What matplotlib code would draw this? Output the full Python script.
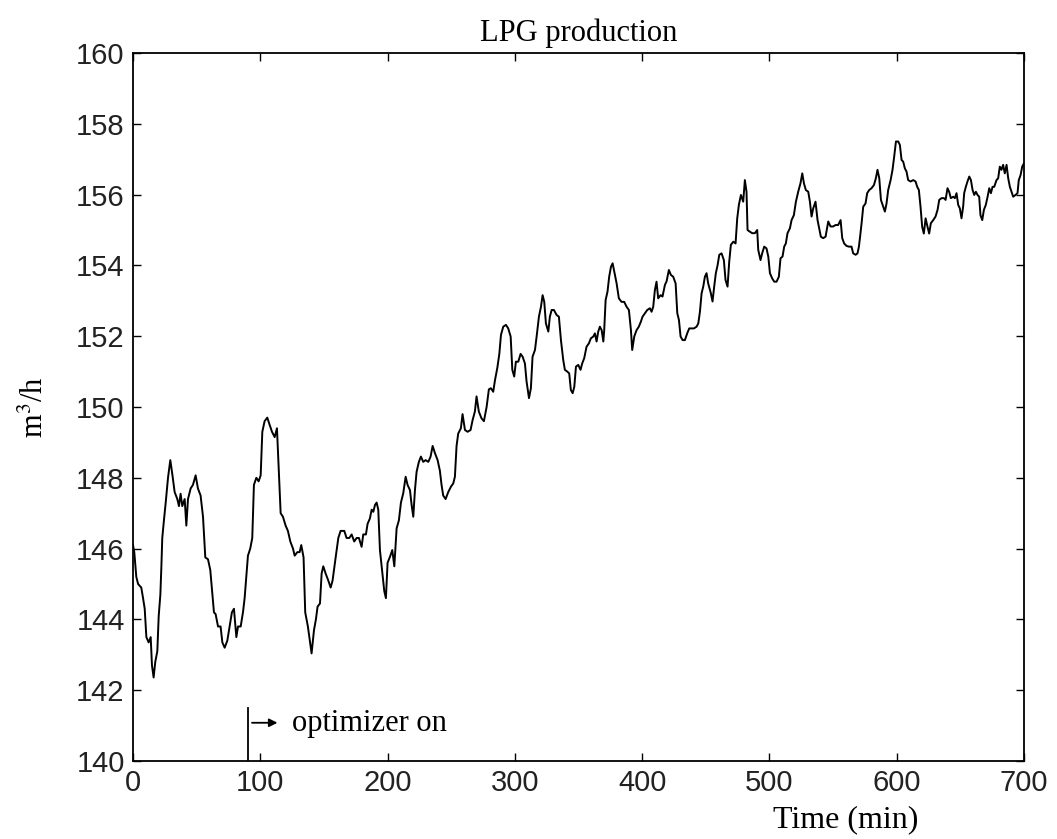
import matplotlib
matplotlib.use("Agg")
import matplotlib.pyplot as plt

# ---- data ----
time_min = [
    0, 1, 2.6, 4, 6.5, 7.9, 9.2, 10.5, 12.3, 13.9, 14.9, 16.2, 17.5, 19.1, 20.2, 21.5, 22.3, 23, 24.3, 25.7,
    27.5, 29.3, 30.9, 32.7, 34.8, 36.1, 37.4, 38.7, 40.6, 41.9, 43.2, 45.3, 47.1, 49.2, 51, 53.1, 55, 56.8, 58.9, 60.7,
    62, 63.6, 64.9, 66.8, 68.8, 70.2, 72, 74.1, 75.9, 77.7, 79.3, 81.2, 82.5, 84.6, 86.4, 87.7, 89, 90.3, 92.1, 93.7,
    95, 96.9, 98.7, 100.3, 101.6, 103.4, 105.5, 107.3, 109.2, 111.3, 113.1, 114.4, 116, 117.8, 119.9, 121.7, 123.6, 125.7, 127, 129.1,
    130.9, 132.2, 134, 135.3, 137.4, 139.3, 140.3, 142.2, 143.7, 145, 146.9, 148.2, 149.5, 151.3, 153.4, 155.3, 156.8, 158.1, 159.4, 161.3,
    163.1, 166, 167.8, 169.9, 171.8, 173.8, 175.7, 177.5, 179.6, 180.9, 183, 184.3, 186.1, 187.5, 188.8, 190.1, 191.4, 192.7, 194, 195.8,
    197.4, 198.7, 200, 201.9, 203.7, 205.3, 207.1, 208.9, 210.5, 212.3, 214.2, 215.7, 217.6, 218.9, 220.2, 221.5, 222.8, 224.6, 226.2, 228,
    229.9, 232, 233.8, 235.4, 237.2, 239.3, 241.1, 242.4, 243.7, 245.6, 247.7, 249.8, 251.6, 252.9, 254.2, 255.5, 257.6, 258.9, 260.8, 262.9,
    265.2, 266.8, 268.6, 269.9, 271.7, 273.8, 275.7, 277.8, 279.6, 281.2, 283, 284.4, 286.2, 287.8, 289.1, 290.9, 293, 294.8, 296.7, 298,
    299.5, 300.8, 302.7, 304.5, 306.1, 307.9, 309.2, 311.1, 312.6, 313.9, 315.8, 317.1, 318.9, 320.5, 321.8, 323.1, 324.4, 326.3, 327.5, 328.9,
    330.7, 332.8, 334.6, 336.2, 338, 339.3, 341.2, 342.7, 344, 345.4, 346.7, 348, 349.8, 351.6, 352.9, 354.5, 356.3, 358.2, 359.7, 361.6,
    362.9, 364.2, 365.5, 366.8, 368.2, 369.5, 370.2, 371.3, 372.8, 374.1, 375.5, 376.8, 378.1, 379.9, 381.7, 383.8, 385.9, 387.8, 389.6, 391.2,
    392.2, 393.8, 395.6, 397.4, 399, 400.3, 402.2, 404, 406.1, 407.4, 408.7, 410, 411.3, 412.6, 414.5, 416, 417.9, 419.2, 421, 422.6,
    424.4, 426.3, 427.6, 428.9, 430.2, 431.8, 433.6, 435.4, 437, 438.8, 440.7, 442.8, 444.1, 445.4, 446.7, 448, 449.3, 450.6, 451.9, 454,
    455.3, 456.6, 457.9, 459.3, 460.6, 462.4, 464.2, 465.5, 467.1, 468.4, 469.7, 471.6, 473.4, 474.7, 476, 477.6, 479.4, 480.7, 482, 482.8,
    484.7, 486.5, 488.6, 490.4, 491.2, 493, 494.3, 495.9, 497.7, 499.1, 500.4, 502.2, 503.8, 505.6, 507.4, 508.7, 510.3, 511.6, 512.9, 514.2,
    516.1, 517.4, 519.2, 520.8, 522.6, 524.4, 525.8, 527.1, 528.6, 530.5, 531.8, 533.1, 534.4, 536.2, 537.8, 539.1, 540.4, 542.2, 544.1, 546.2,
    548, 550.1, 551.9, 554, 555.9, 557.2, 558.7, 560.6, 562.4, 564.5, 565.8, 567.7, 569.2, 570.3, 571.1, 572.4, 573.7, 575.5, 576.8, 578.4,
    580.2, 582.1, 583.6, 584.9, 586.3, 587.6, 589.4, 590.7, 592, 593.3, 595.2, 596.7, 598, 599.4, 601.2, 602.5, 603.8, 605.1, 606.4, 607.7,
    609, 610.9, 613, 614.8, 616.1, 617.4, 618.7, 620, 621.3, 622.7, 624.2, 625.5, 626.8, 628.7, 630.5, 632.1, 633.4, 635.2, 637.1, 638.4,
    639.9, 641.2, 642.5, 644.4, 645.7, 647, 648.3, 649.6, 650.9, 652.2, 653, 654.3, 655.6, 657, 658.3, 659.6, 660.9, 662.2, 663.5, 664.8,
    665.8, 667.2, 668.5, 670, 671.4, 672.7, 674, 675.3, 676.6, 678.4, 679.7, 681, 682.3, 683.6, 684.9, 686.3, 687.6, 688.9, 690.2, 691.5,
    693.3, 694.9, 695.9, 697.3, 698.6, 699.9,
]

lpg_flow = [
    146.1, 145.9, 145.2, 145.0, 144.9, 144.6, 144.3, 143.5, 143.35, 143.5, 142.7, 142.36, 142.8, 143.1, 144.1, 144.7, 145.5, 146.3, 146.8, 147.3,
    148.0, 148.5, 148.1, 147.6, 147.4, 147.2, 147.55, 147.2, 147.4, 146.65, 147.4, 147.7, 147.8, 148.07, 147.7, 147.5, 146.9, 145.75, 145.7, 145.4,
    144.85, 144.2, 144.15, 143.8, 143.8, 143.35, 143.2, 143.4, 143.8, 144.2, 144.3, 143.5, 143.8, 143.8, 144.2, 144.6, 145.2, 145.8, 146.0, 146.3,
    147.8, 148.0, 147.9, 148.07, 149.3, 149.6, 149.7, 149.5, 149.3, 149.15, 149.4, 148.35, 147.0, 146.9, 146.65, 146.5, 146.2, 146.0, 145.8, 145.9,
    145.9, 146.1, 145.75, 144.2, 143.8, 143.3, 143.04, 143.7, 144.0, 144.36, 144.45, 145.3, 145.5, 145.3, 145.1, 144.9, 145.1, 145.44, 145.8, 146.3,
    146.5, 146.5, 146.3, 146.3, 146.4, 146.2, 146.3, 146.3, 146.05, 146.4, 146.4, 146.7, 146.85, 147.1, 147.04, 147.23, 147.3, 147.1, 145.96, 145.35,
    144.8, 144.6, 145.6, 145.77, 145.96, 145.5, 146.57, 146.8, 147.3, 147.56, 148.03, 147.8, 147.65, 147.23, 146.9, 147.65, 148.17, 148.45, 148.6, 148.45,
    148.5, 148.45, 148.6, 148.9, 148.7, 148.5, 148.2, 147.8, 147.5, 147.4, 147.6, 147.75, 147.84, 148.03, 148.9, 149.25, 149.4, 149.8, 149.35, 149.3,
    149.35, 149.63, 149.87, 150.3, 149.87, 149.68, 149.6, 150.0, 150.5, 150.53, 150.43, 150.76, 151.1, 151.5, 152.04, 152.27, 152.32, 152.22, 151.99, 151.05,
    150.86, 151.28, 151.28, 151.5, 151.42, 151.23, 150.72, 150.25, 150.53, 151.42, 151.61, 151.99, 152.55, 152.83, 153.16, 152.97, 152.36, 152.13, 152.55, 152.74,
    152.74, 152.6, 152.55, 151.89, 151.33, 151.05, 151.0, 150.95, 150.48, 150.39, 150.57, 151.14, 151.19, 151.05, 151.23, 151.38, 151.7, 151.8, 151.94, 151.99,
    152.08, 151.85, 152.13, 152.27, 152.17, 151.85, 152.17, 153.02, 153.26, 153.68, 153.96, 154.06, 153.82, 153.5, 153.07, 152.97, 152.97, 152.83, 152.74, 152.17,
    151.61, 151.99, 152.17, 152.27, 152.41, 152.55, 152.65, 152.74, 152.79, 152.69, 152.83, 153.3, 153.54, 153.07, 153.16, 153.12, 153.45, 153.55, 153.87, 153.73,
    153.68, 153.49, 152.65, 152.46, 151.99, 151.89, 151.89, 152.08, 152.22, 152.22, 152.22, 152.27, 152.36, 152.69, 153.21, 153.4, 153.68, 153.78, 153.49, 153.21,
    152.98, 153.4, 153.78, 154.01, 154.3, 154.34, 154.15, 153.59, 153.4, 154.1, 154.58, 154.67, 154.62, 155.33, 155.71, 155.99, 155.8, 156.41, 156.08, 155.0,
    154.95, 154.91, 154.91, 155.0, 154.44, 154.15, 154.34, 154.53, 154.48, 154.25, 153.78, 153.63, 153.54, 153.54, 153.68, 154.2, 154.25, 154.53, 154.62, 154.91,
    155.05, 155.28, 155.42, 155.8, 156.08, 156.32, 156.6, 156.32, 156.13, 156.08, 155.8, 155.38, 155.61, 155.8, 155.28, 155.05, 154.81, 154.77, 154.81, 155.24,
    155.1, 155.1, 155.14, 155.14, 155.28, 154.77, 154.62, 154.55, 154.53, 154.53, 154.34, 154.3, 154.34, 154.53, 154.77, 155.19, 155.66, 155.75, 156.04, 156.13,
    156.18, 156.27, 156.46, 156.7, 156.46, 155.85, 155.66, 155.52, 155.75, 156.13, 156.41, 156.7, 157.07, 157.5, 157.5, 157.4, 156.98, 156.93, 156.74, 156.65,
    156.41, 156.37, 156.41, 156.37, 156.22, 156.13, 155.66, 155.09, 154.9, 155.33, 155.09, 154.9, 155.19, 155.28, 155.38, 155.57, 155.85, 155.9, 155.9, 155.85,
    156.18, 156.08, 155.9, 155.94, 155.9, 156.04, 155.71, 155.61, 155.33, 155.66, 156.04, 156.22, 156.37, 156.51, 156.41, 156.13, 155.99, 156.08, 155.99, 155.94,
    155.42, 155.28, 155.57, 155.71, 155.94, 156.18, 156.04, 156.22, 156.22, 156.41, 156.46, 156.79, 156.7, 156.84, 156.6, 156.84, 156.46, 156.22, 156.08, 155.94,
    155.99, 156.04, 156.41, 156.55, 156.79, 156.88,
]

x_ticks = [0, 100, 200, 300, 400, 500, 600, 700]
y_ticks = [140, 142, 144, 146, 148, 150, 152, 154, 156, 158, 160]
optimizer_on_time = 90
marker_top = 141.5
title_text = "LPG production"
xlabel_text = "Time (min)"
ylabel_text = r"m$^{3}$/h"
annot_text = "optimizer on"

# ---- figure ----
plt.rcParams["mathtext.fontset"] = "stix"
serif = ["Liberation Serif", "DejaVu Serif"]
sans = ["Liberation Sans", "DejaVu Sans"]

fig = plt.figure(figsize=(10.57, 8.39), dpi=100)
ax = fig.add_axes([133 / 1057, 1 - 761 / 839, (1024 - 133) / 1057, (761 - 53) / 839])

ax.plot(time_min, lpg_flow, color="black", linewidth=1.4)
ax.plot([optimizer_on_time, optimizer_on_time], [140, marker_top], color="black", linewidth=1.3)
# small right arrow next to the marker line
ax.annotate("", xy=(optimizer_on_time + 23.5, 141.08), xytext=(optimizer_on_time + 3.5, 141.08),
            arrowprops=dict(arrowstyle="-|>", color="black", lw=1.3, mutation_scale=12,
                            shrinkA=0, shrinkB=0))
ax.text(optimizer_on_time + 35, 141.05, annot_text, family=serif, fontsize=22,
        va="center", ha="left")

ax.set_xlim(0, 700)
ax.set_ylim(140, 160)
ax.set_xticks(x_ticks)
ax.set_yticks(y_ticks)
ax.set_xticklabels([str(v) for v in x_ticks], family=sans, fontsize=21, color="#222222")
ax.set_yticklabels([str(v) for v in y_ticks], family=sans, fontsize=21, color="#222222")
ax.tick_params(direction="in", length=6, width=1.0, top=True, right=True, pad=6)
for s in ax.spines.values():
    s.set_linewidth(1.3)

ax.set_title(title_text, family=serif, fontsize=22, pad=9)
ax.set_xlabel(xlabel_text, family=serif, fontsize=23)
ax.xaxis.set_label_coords(0.80, -0.063)
ax.set_ylabel(ylabel_text, family=serif, fontsize=22)
ax.yaxis.set_label_coords(-0.093, 0.5)

fig.savefig("out.png", dpi=100)
